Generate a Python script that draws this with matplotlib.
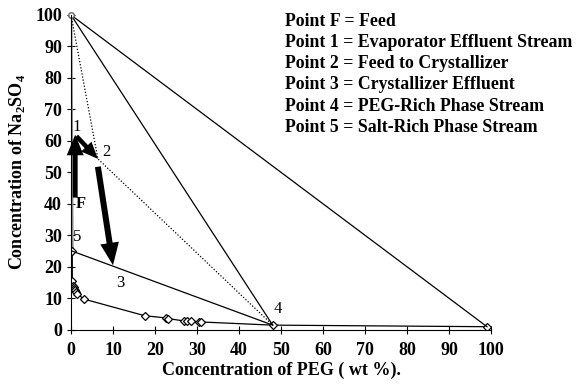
import matplotlib.pyplot as plt

# binodal curve points (PEG wt%, Na2SO4 wt%)
curve_peg = [0.3, 0.3, 0.5, 0.6, 0.8, 1.0, 1.3, 1.5, 3.0, 17.5, 22.5, 23.0, 27.0, 27.5, 28.5, 30.5, 31.0, 48.0, 99.0]
curve_salt = [25.0, 15.5, 14.0, 13.5, 13.0, 12.5, 12.0, 11.5, 9.8, 4.5, 3.8, 3.6, 2.8, 2.7, 2.7, 2.5, 2.5, 1.5, 1.0]

# process points
pt_top = (0.0, 100.0)
pt_F = (1.0, 42.0)
pt_1 = (1.0, 62.0)
pt_2 = (6.4, 54.3)
pt_3 = (10.0, 20.5)
pt_4 = (48.0, 1.5)
pt_5 = (0.3, 25.0)
pt_end = (99.0, 1.0)

labels = ["1", "2", "3", "4", "5", "F"]
label_x = [1.4, 8.5, 11.7, 49.3, 1.4, 2.4]
label_y = [64.4, 56.5, 15.0, 6.7, 29.5, 40.0]

legend_lines = [
    "Point F = Feed",
    "Point 1 = Evaporator Effluent Stream",
    "Point 2 = Feed to Crystallizer",
    "Point 3 = Crystallizer Effluent",
    "Point 4 = PEG-Rich Phase Stream",
    "Point 5 = Salt-Rich Phase Stream",
]

plt.rcParams["font.family"] = ["Liberation Serif", "DejaVu Serif"]
plt.rcParams["font.weight"] = "bold"
plt.rcParams["mathtext.fontset"] = "custom"
plt.rcParams["mathtext.rm"] = "Liberation Serif:bold"

fig = plt.figure(figsize=(5.82, 3.84), dpi=100)
ax = fig.add_axes([0.122, 0.141, 0.722, 0.820])

# gray line along the salt axis (binodal to pure salt)
ax.plot([pt_5[0], pt_top[0]], [pt_5[1], pt_top[1]], color="0.55", lw=2)

# binodal curve
ax.plot(curve_peg, curve_salt, color="k", lw=0.9, marker="D", markersize=4.5,
        markerfacecolor="white", markeredgecolor="k", markeredgewidth=0.9)

# tie lines and operating lines
ax.plot([pt_5[0], pt_4[0]], [pt_5[1], pt_4[1]], color="k", lw=0.9)
ax.plot([pt_top[0], pt_4[0]], [pt_top[1], pt_4[1]], color="k", lw=0.9)
ax.plot([pt_top[0], pt_end[0]], [pt_top[1], pt_end[1]], color="k", lw=0.9)
ax.plot([pt_top[0], pt_2[0], pt_4[0]], [pt_top[1], pt_2[1], pt_4[1]], color="k", lw=0.9,
        ls=(0, (1, 1.5)))
ax.plot([pt_top[0]], [pt_top[1]], marker="o", markersize=4, markerfacecolor="white",
        markeredgecolor="0.4", clip_on=False)

# process arrows
ax.annotate("", xy=pt_1, xytext=pt_F,
            arrowprops=dict(arrowstyle="simple,head_length=0.55,head_width=0.45,tail_width=0.13",
                            lw=0, color="k", mutation_scale=27, shrinkA=0, shrinkB=0))
ax.annotate("", xy=pt_2, xytext=(pt_1[0] + 0.3, pt_1[1] - 0.5),
            arrowprops=dict(arrowstyle="simple,head_length=0.45,head_width=0.38,tail_width=0.12",
                            lw=0, color="k", mutation_scale=27, shrinkA=0, shrinkB=0))
ax.annotate("", xy=pt_3, xytext=(pt_2[0], pt_2[1] - 2.5),
            arrowprops=dict(arrowstyle="simple,head_length=0.6,head_width=0.5,tail_width=0.16",
                            lw=0, color="k", mutation_scale=27, shrinkA=0, shrinkB=0))

for t, x, y in zip(labels, label_x, label_y):
    weight = "bold" if t == "F" else "normal"
    ax.text(x, y, t, fontsize=12, fontweight=weight, ha="center", va="center")

for i, line in enumerate(legend_lines):
    fig.text(0.49, 1 - (21 + i * 21.3) / 384, line, fontsize=12.8, fontweight="bold",
             ha="left", va="center")

ax.set_xlim(0, 100)
ax.set_ylim(0, 100)
ax.set_xticks(range(0, 101, 10))
ax.set_yticks(range(0, 101, 10))
ax.spines["top"].set_visible(False)
ax.spines["right"].set_visible(False)
ax.tick_params(direction="inout", length=6, labelsize=13)
ax.tick_params(axis="x", pad=6)
for lab in ax.get_xticklabels() + ax.get_yticklabels():
    lab.set_fontweight("bold")

ax.set_xlabel("Concentration of PEG ( wt %).", fontsize=13, fontweight="bold", labelpad=2)
ax.set_ylabel("Concentration of Na$_2$SO$_4$", fontsize=13, fontweight="bold", labelpad=6)

fig.savefig("out.png", dpi=100)
